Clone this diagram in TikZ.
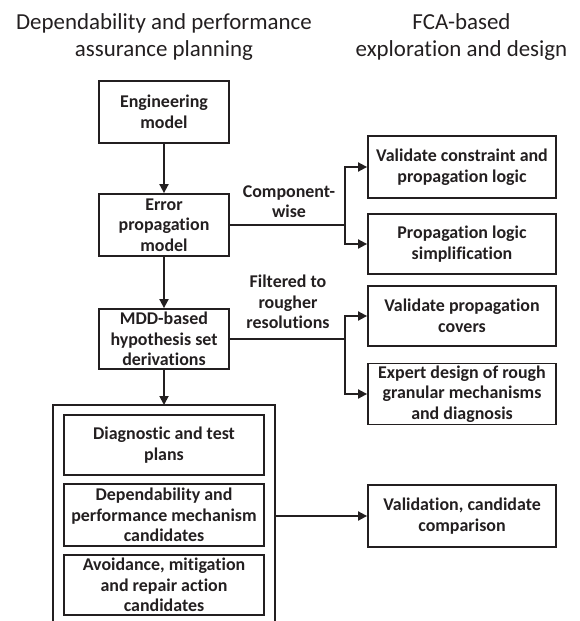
\documentclass[tikz,border=0pt]{standalone}
\usepackage{fontspec}
\setmainfont{Carlito}[Ligatures={NoCommon,NoContextual}]
\usetikzlibrary{arrows.meta}

\definecolor{ink}{RGB}{35,31,32}
\tikzset{
  box/.style={draw=ink, text=ink, line width=1.8bp, align=center, inner sep=2pt,
    font=\fontsize{18}{20.7}\selectfont\bfseries},
  lbl/.style={text=ink, align=center, inner sep=0pt,
    font=\fontsize{18}{20.7}\selectfont\bfseries},
  ttl/.style={text=ink, anchor=base, inner sep=0pt, font=\fontsize{23}{27.7}\selectfont},
  conn/.style={draw=ink, line width=1.8bp},
  arr/.style={conn, -{Triangle[length=9bp,width=9bp]}}
}

\begin{document}
\begin{tikzpicture}[x=1bp,y=-1bp]
  \useasboundingbox (0,0) rectangle (580,621);
  % titles
  \node[ttl] (titleL1) at (164,29.3) {Dependability and performance};
  \node[ttl] (titleL2) at (164,57) {assurance planning};
  \node[ttl] (titleR1) at (461.5,29.3) {FCA-based};
  \node[ttl] (titleR2) at (461.5,57) {exploration and design};
  %
  \node[box, minimum width=130bp, minimum height=62bp] (eng) at (164,112) {Engineering\\model};
  \node[box, minimum width=130bp, minimum height=62bp] (err) at (164,225) {Error\\propagation\\model};
  \node[box, minimum width=130bp, minimum height=60bp] (mdd) at (164,339) {MDD-based\\hypothesis set\\derivations};
  \draw[arr] (eng) -- (err);
  \draw[arr] (err) -- (mdd);
  %
  \node[box, minimum width=188bp, minimum height=62bp] (valcon) at (462,167) {Validate constraint and\\propagation logic};
  \node[box, minimum width=188bp, minimum height=60bp] (simp) at (462,244) {Propagation logic\\simplification};
  \node[lbl] (cwise) at (289,201.5) {Component-\\wise};
  \coordinate (cwfork) at (345,225);
  \draw[conn] (err.east) -- (cwfork);
  \draw[arr] (cwfork) |- (valcon.west);
  \draw[arr] (cwfork) |- (simp.west);
  %
  \node[box, minimum width=188bp, minimum height=60bp] (valcov) at (462,316) {Validate propagation\\covers};
  \node[box, minimum width=188bp, minimum height=60bp] (expert) at (462,394) {Expert design of rough\\granular mechanisms\\and diagnosis};
  \node[lbl] (filt) at (288,302) {Filtered to\\rougher\\resolutions};
  \coordinate (ffork) at (345,339);
  \draw[conn] (mdd.east) -- (ffork);
  \draw[arr] (ffork) |- (valcov.west);
  \draw[arr] (ffork) |- (expert.west);
  %
  \draw[conn] (53,625) -- (53,405) -- (275,405) -- (275,625);
  \coordinate (outtop) at (164,405);
  \coordinate (outright) at (275,516);
  \draw[arr] (mdd) -- (outtop);
  %
  \node[box, minimum width=200bp, minimum height=60bp] (diag) at (164,445) {Diagnostic and test\\plans};
  \node[box, minimum width=200bp, minimum height=62bp] (mech) at (164,515) {Dependability and\\performance mechanism\\candidates};
  \node[box, minimum width=200bp, minimum height=60bp] (avoid) at (164,585) {Avoidance, mitigation\\and repair action\\candidates};
  %
  \node[box, minimum width=188bp, minimum height=62bp] (valcand) at (462,516) {Validation, candidate\\comparison};
  \draw[arr] (outright) -- (valcand.west);
  %
\end{tikzpicture}
\end{document}
